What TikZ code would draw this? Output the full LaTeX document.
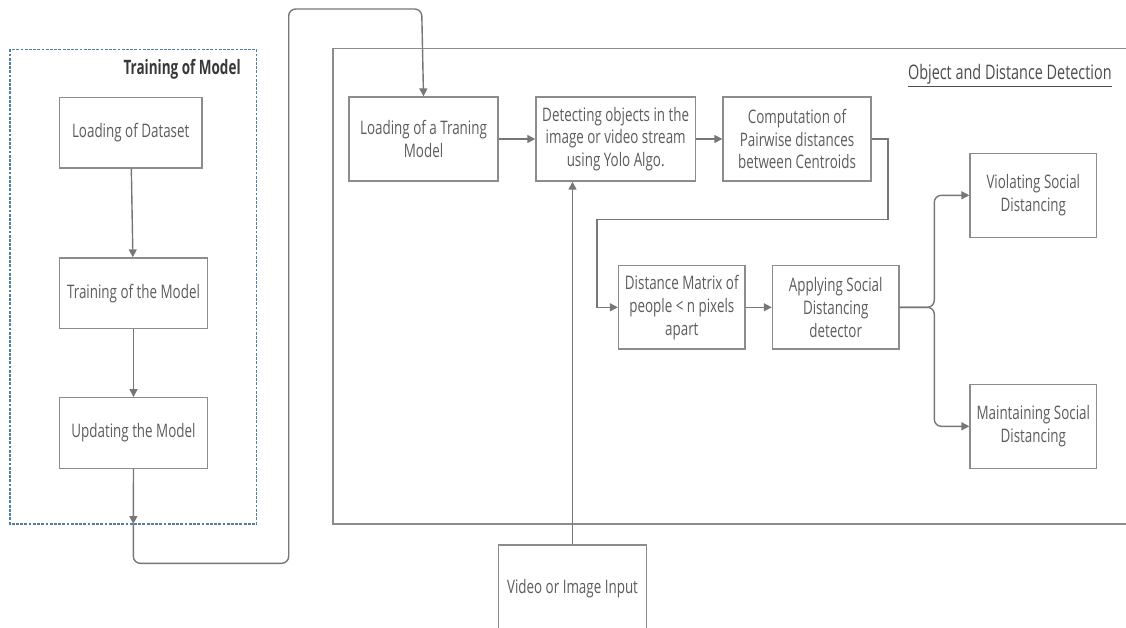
\documentclass[tikz,border=0pt]{standalone}
\usepackage{fontspec}
\setmainfont{Open Sans}[FakeStretch=0.72]
\newfontfamily\titlefont{Open Sans}[FakeStretch=0.68]
\usepackage{tikz}
\usetikzlibrary{arrows.meta,calc}

\definecolor{boxline}{HTML}{8C8C8C}
\definecolor{boxtext}{HTML}{5C5C5C}
\definecolor{frameblue}{HTML}{4F7FA3}
\definecolor{titletext}{HTML}{383838}

\begin{document}
\begin{tikzpicture}[x=0.02cm, y=-0.02cm,
    stage/.style={draw=boxline, line width=0.8pt, rectangle, align=center, text=boxtext,
      font=\fontsize{10.6}{13}\selectfont, inner sep=0pt},
    flow/.style={draw=boxline!85!black, line width=0.8pt, -{Triangle[width=4.5pt,length=4.5pt]}},
  ]
  \useasboundingbox (0,0) rectangle (1126,627);

  % Frames
  \draw[frameblue, dash pattern=on 1.6pt off 0.8pt, line width=0.8pt] (10,49.3) rectangle (256.7,524);
  \node[anchor=east, inner sep=0pt, text=titletext, font=\titlefont\fontsize{11.3}{14}\selectfont\bfseries] (traintitle) at (241,69) {Training of Model};
  \draw[boxline, line width=1pt] (333.3,48.5) rectangle (1140,524);
  \node[anchor=east, inner sep=0pt, text=titletext!90!white, font=\fontsize{11.4}{13}\selectfont] (odtitle) at (1112,76) {\underline{Object and Distance Detection}};

  % Training nodes
  \node[stage, minimum width=2.85cm, minimum height=1.41cm] (dataset) at (130.7,132.7) {Loading of Dataset};
  \node[stage, minimum width=2.97cm, minimum height=1.41cm] (training) at (133.5,293.2) {Training of the Model};
  \node[stage, minimum width=2.97cm, minimum height=1.41cm] (updating) at (133.5,433) {Updating the Model};

  % Detection nodes
  \node[stage, minimum width=2.98cm, minimum height=1.68cm] (trmodel) at (423.5,139) {Loading of a Traning\\Model};
  \node[stage, minimum width=3.19cm, minimum height=1.68cm] (detect) at (615.7,139) {Detecting objects in the\\image or video stream\\using Yolo Algo.};
  \node[stage, minimum width=2.96cm, minimum height=1.68cm] (comp) at (797,139) {Computation of\\Pairwise distances\\between Centroids};
  \node[stage, minimum width=2.53cm, minimum height=1.67cm] (distm) at (681.8,307.3) {Distance Matrix of\\people < n pixels\\apart};
  \node[stage, minimum width=2.53cm, minimum height=1.67cm] (apply) at (835.7,307.3) {Applying Social\\Distancing\\detector};
  \node[stage, minimum width=2.53cm, minimum height=1.68cm] (violate) at (1033.3,195.3) {Violating Social\\Distancing};
  \node[stage, minimum width=2.53cm, minimum height=1.68cm] (maintain) at (1033.3,426.3) {Maintaining Social\\Distancing};
  \node[stage, minimum width=2.97cm, minimum height=1.73cm] (input) at (572.5,588.3) {Video or Image Input};

  % Arrows
  \coordinate (gate) at (133.3,524);
  \draw[flow] (dataset) -- (training);
  \draw[flow] (training) -- (updating);
  \draw[flow] (updating.south) -- (gate);
  \draw[flow, rounded corners=4pt] (gate) -- (133.3,563.3) -- (288.7,563.3) -- (288.7,9) -- (421.7,9) -- (trmodel.north);
  \draw[flow] (trmodel) -- (detect);
  \draw[flow] (detect) -- (comp);
  \draw[flow] (comp.east) -- (888,139) -- (888,219.3) -- (597,219.3) -- (597,307.3) -- (distm.west);
  \draw[flow] (distm) -- (apply);
  \draw[flow, rounded corners=4pt] (apply.east) -- (934.3,307.3) -- (934.3,195.3) -- (violate.west);
  \draw[flow, rounded corners=4pt] (apply.east) -- (934.3,307.3) -- (934.3,426.3) -- (maintain.west);
  \draw[flow] (input.north) -- (input.north |- detect.south);
\end{tikzpicture}
\end{document}
